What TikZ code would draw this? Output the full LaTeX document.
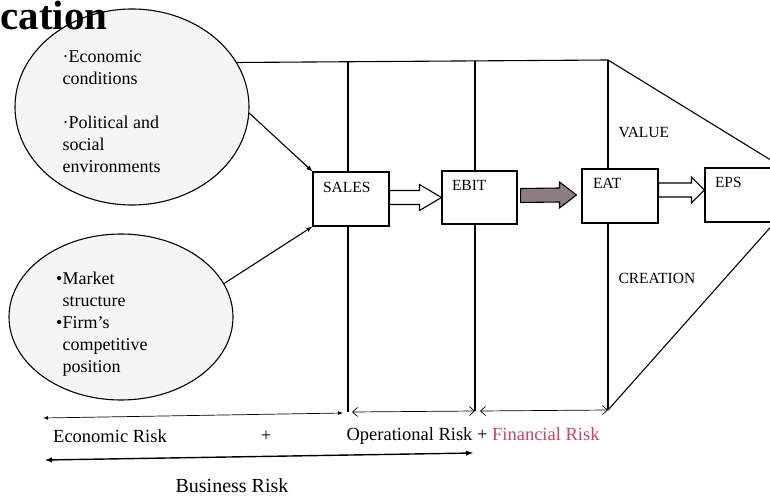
\documentclass[tikz,border=0pt]{standalone}
\usepackage{fontspec}
\setmainfont{Liberation Serif}
\usetikzlibrary{shapes.geometric,arrows.meta,calc}

\definecolor{finred}{RGB}{200,70,95}
\definecolor{hatchgray}{RGB}{140,126,132}

% hollow block arrow between two named points
\newcommand{\fatarrow}[4]{%
  \draw[fill=#3] ($(#1)+(0,-7)$) -- ($(#2)+(-#4,-7)$) -- ($(#2)+(-#4,-13)$) -- (#2)
    -- ($(#2)+(-#4,13)$) -- ($(#2)+(-#4,7)$) -- ($(#1)+(0,7)$) -- cycle;}

\begin{document}
\begin{tikzpicture}[>=latex, x=1pt, y=-1pt, line width=1.1pt,
    cloud/.style={ellipse, draw, fill=gray!8, inner sep=0pt},
    riskbox/.style={draw, fill=white, inner sep=0pt, minimum width=76pt, minimum height=54pt},
    boxlabel/.style={anchor=west, inner sep=0pt, font=\fontsize{15.5}{16}\selectfont},
    cloudtext/.style={anchor=north west, align=left, inner sep=0pt, font=\fontsize{18}{22}\selectfont},
    risklabel/.style={inner sep=0pt, font=\fontsize{18.5}{20}\selectfont},
    span/.style={<->, line width=0.7pt},
    openspan/.style={{Straight Barb[length=5pt,width=9pt]}-{Straight Barb[length=5pt,width=9pt]}, line width=0.7pt}]
  \useasboundingbox (0,0) rectangle (770,497);
  \clip (0,0) rectangle (770,497);

  % the two clouds
  \node[cloud, minimum width=234pt, minimum height=196pt] (econ) at (132,107) {};
  \node[cloud, minimum width=224pt, minimum height=166pt] (mkt) at (121,317) {};
  \node[cloudtext] (econtext) at (62,50) {·Economic\\conditions\\[22pt]·Political and\\social\\environments};
  \node[cloudtext] (mkttext) at (62,271) {\llap{•}Market\\structure\\\llap{•}Firm’s\\competitive\\position};

  % title
  \node[anchor=base west, inner sep=0pt, font=\fontsize{41}{41}\selectfont\bfseries] (title) at (0,30) {cation};

  % frame
  \coordinate (topL) at (econ.23);
  \coordinate (v1t) at (348,61);
  \coordinate (v1b) at (348,412);
  \coordinate (v2t) at (475,61);
  \coordinate (v2b) at (475,411);
  \coordinate (v3t) at (608,60);
  \coordinate (v3b) at (608,410);
  \coordinate (tipT) at (800,178);
  \coordinate (tipB) at (800,194);
  \draw (topL) -- (v3t) -- (tipT);
  \draw (v3b) -- (tipB);
  \draw (v1t) -- (v1b);
  \draw (v2t) -- (v2b);
  \draw (v3t) -- (v3b);
  \node at (618,133) [anchor=west, inner sep=0pt, font=\fontsize{15.5}{16}\selectfont] (value) {VALUE};
  \node at (618,278) [anchor=west, inner sep=0pt, font=\fontsize{15.5}{16}\selectfont] (creation) {CREATION};

  % boxes
  \node[riskbox] (sales) at (351,199) {};
  \node[riskbox, minimum width=75pt, minimum height=53pt] (ebit) at (479.5,197.5) {};
  \node[riskbox] (eat) at (620,196) {};
  \node[riskbox, minimum width=90pt] (eps) at (750,195) {};
  \node[boxlabel] at ($(sales.north west)+(10,16)$) {SALES};
  \node[boxlabel] at ($(ebit.north west)+(10,15)$) {EBIT};
  \node[boxlabel] at ($(eat.north west)+(11,15)$) {EAT};
  \node[boxlabel] at ($(eps.north west)+(10,15)$) {EPS};

  % inputs
  \draw[->] (econ.-3) -- (sales.north west);
  \draw[->] (mkt.18) -- (sales.south west);

  % block arrows
  \coordinate (a1s) at (sales.east |- ebit.west);
  \coordinate (a2s) at ($(ebit.east)+(3,-2)$);
  \coordinate (a2e) at ($(eat.west)+(-5,-1)$);
  \coordinate (a3s) at ($(eat.east)+(0,-6)$);
  \coordinate (a3e) at (eps.west |- a3s);
  \fatarrow{a1s}{ebit.west}{white}{22}
  \fatarrow{a2s}{a2e}{hatchgray}{17}
  \fatarrow{a3s}{a3e}{white}{13}

  % risk spans
  \coordinate (ecoL) at (43,418);
  \coordinate (ecoR) at (343,413);
  \coordinate (busL) at (45,460);
  \coordinate (busR) at (473,453);
  \draw[span] (ecoL) -- (ecoR);
  \draw[openspan] ([xshift=4pt]v1b) -- (v2b);
  \draw[openspan] ([xshift=5pt]v2b) -- (v3b);
  \draw[span, line width=1.4pt] (busL) -- (busR);
  \node[risklabel] (ecorisk) at (110,436) {Economic Risk};
  \node[risklabel] (plus) at (266,436) {+};
  \node[risklabel, anchor=west] (oprisk) at (346,436) {Operational Risk + \textcolor{finred}{Financial Risk}};
  \node[inner sep=0pt, font=\fontsize{20}{22}\selectfont] (busrisk) at (232,486) {Business Risk};
\end{tikzpicture}
\end{document}
